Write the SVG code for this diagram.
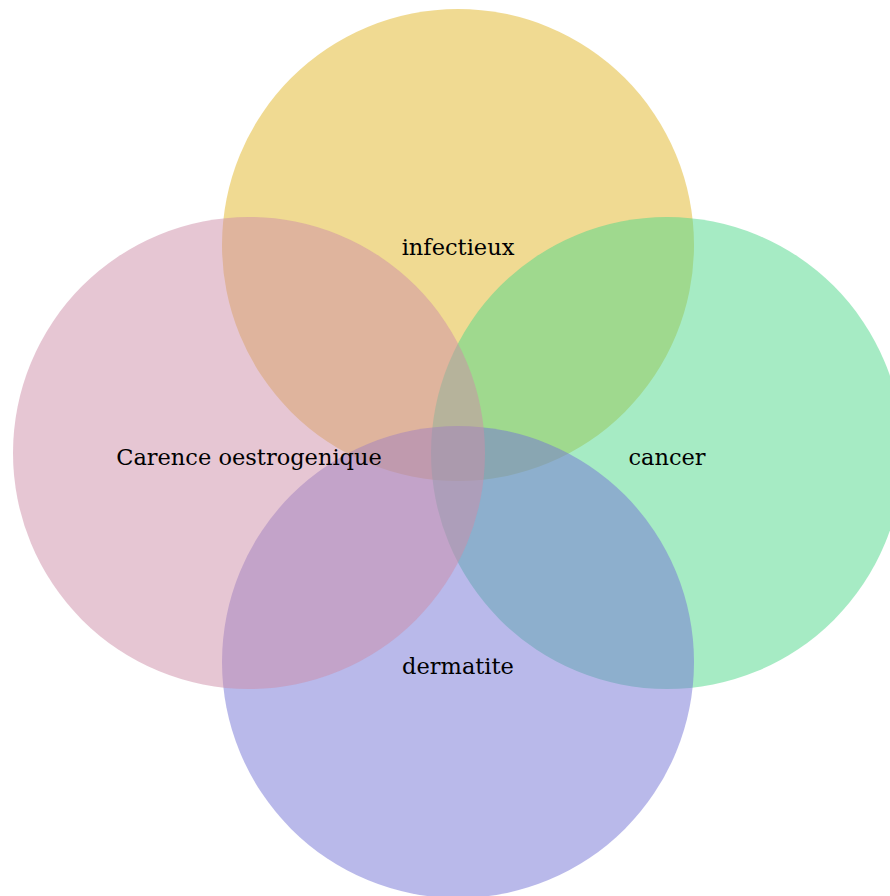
<svg xmlns="http://www.w3.org/2000/svg" width="890" height="896" viewBox="0 0 890 896">
<style>
circle{fill-opacity:0.5;stroke:none}
text{font-family:"DejaVu Serif","Liberation Serif",serif;font-size:22.5px;fill:#000;text-anchor:middle}
</style>
<rect width="890" height="896" fill="#fff"/>
<g id="infectieux"><circle cx="458" cy="245" r="236" fill="#e2b526"/></g>
<g id="cancer"><circle cx="667" cy="453" r="236" fill="#4dd789"/></g>
<g id="dermatite"><circle cx="458" cy="662" r="236" fill="#7373d5"/></g>
<g id="carence"><circle cx="249" cy="453" r="236" fill="#cd8da7"/></g>
<g id="labels">
<text x="458" y="255">infectieux</text>
<text x="249" y="465">Carence oestrogenique</text>
<text x="667" y="465">cancer</text>
<text x="458" y="674">dermatite</text>
</g>
<g id="connectors"/>
</svg>
